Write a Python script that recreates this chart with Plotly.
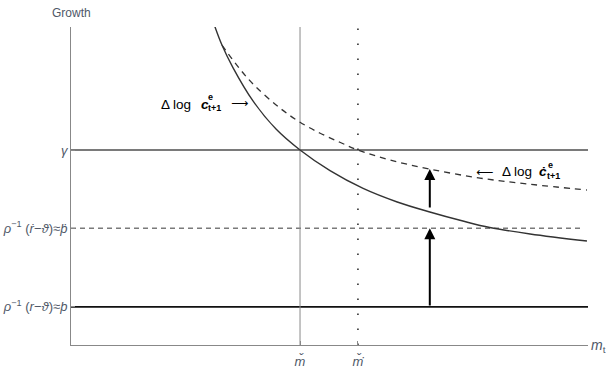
import plotly.graph_objects as go

# ---- data (axis units) ----
solid_x = [2.77, 2.92, 3.13, 3.52, 3.97, 4.43, 5.01, 5.65, 6.31, 6.94, 7.58, 8.10, 8.88, 9.98]
solid_y = [9.92, 9.29, 8.60, 7.56, 6.68, 6.04, 5.40, 4.85, 4.43, 4.12, 3.84, 3.64, 3.44, 3.22]
dash_x = [2.92, 3.27, 3.56, 4.04, 4.43, 4.82, 5.20, 5.55, 6.17, 6.94, 7.91, 8.88, 9.98]
dash_y = [9.29, 8.54, 8.02, 7.34, 6.90, 6.56, 6.28, 6.04, 5.73, 5.45, 5.17, 4.98, 4.80]

gamma = 6.04
rho_dot = 3.62
rho = 1.18
m_check = 4.43
m_check_dot = 5.55
arrow_x = 6.94
arrow_upper = [4.21, 5.45]   # from, to
arrow_lower = [rho, rho_dot]

ytick_vals = [rho, rho_dot, gamma]
ytick_text = ["<i>ρ</i><sup>−1</sup> (<i>r</i>−<i>ϑ</i>)≈<i>þ</i>",
              "<i>ρ</i><sup>−1</sup> (<i>ṙ</i>−<i>ϑ</i>)≈<i>þ\u0307</i>",
              "<i>γ</i>"]
xtick_vals = [m_check, m_check_dot]
xtick_text = ["<i>m\u030c</i>", "<i>m\u030c\u0307</i>"]

XMAX = 10
YMAX = 9.85
label_col = "#4f5867"
FAM = "Liberation Sans, Arial, sans-serif"

fig = go.Figure()

# horizontal lines
fig.add_trace(go.Scatter(x=[0, XMAX], y=[gamma, gamma], mode="lines",
                         line=dict(color="#7a7a7a", width=2), hoverinfo="skip"))
fig.add_trace(go.Scatter(x=[0, 9.9], y=[rho_dot, rho_dot], mode="lines",
                         line=dict(color="#7a7a7a", width=1.5, dash="5px,4px"), hoverinfo="skip"))
fig.add_trace(go.Scatter(x=[0, XMAX], y=[rho, rho], mode="lines",
                         line=dict(color="#111111", width=1.6), hoverinfo="skip"))
# vertical lines
fig.add_trace(go.Scatter(x=[m_check, m_check], y=[0, YMAX], mode="lines",
                         line=dict(color="#8a8a8a", width=1), hoverinfo="skip"))
fig.add_trace(go.Scatter(x=[m_check_dot, m_check_dot], y=[0, YMAX], mode="lines",
                         line=dict(color="#222222", width=1.5, dash="1.5px,13.5px"), hoverinfo="skip"))
# curves
fig.add_trace(go.Scatter(x=solid_x, y=solid_y, mode="lines", line_shape="spline",
                         line=dict(color="#333333", width=1.4), hoverinfo="skip"))
fig.add_trace(go.Scatter(x=dash_x, y=dash_y, mode="lines", line_shape="spline",
                         line=dict(color="#333333", width=1.3, dash="6px,5px"), hoverinfo="skip"))

ann = []
for a in (arrow_lower, arrow_upper):
    ann.append(dict(x=arrow_x, y=a[1], ax=arrow_x, ay=a[0], xref="x", yref="y",
                    axref="x", ayref="y", showarrow=True, arrowhead=2, arrowsize=1.1,
                    arrowwidth=2, arrowcolor="#000000", text=""))

f_main = dict(family=FAM, size=13.5, color="#000000")
f_small = dict(family=FAM, size=9, color="#000000")
f_arrow = dict(family="DejaVu Sans", size=12, color="#000000")

def t(x, y, text, font, xanchor="left"):
    return dict(x=x, y=y, text=text, showarrow=False, xanchor=xanchor,
                yanchor="middle", font=font)

# label 1: Δ log c^e_{t+1} ⟶
ann += [
    t(2.36, 7.46, "Δ log", f_main, "right"),
    t(2.476, 7.46, "<b><i>c</i></b>", f_main),
    t(2.611, 7.68, "<b>e</b>", f_small),
    t(2.611, 7.34, "<b>t+1</b>", f_small),
    t(3.26, 7.49, "⟶", f_arrow, "center"),
]
# label 2: ⟵ Δ log ċ^e_{t+1}
ann += [
    t(7.99, 5.36, "⟵", f_arrow, "center"),
    t(8.298, 5.36, "Δ log", f_main),
    t(9.01, 5.36, "<b><i>ċ</i></b>", f_main),
    t(9.19, 5.57, "<b>e</b>", f_small),
    t(9.17, 5.23, "<b>t+1</b>", f_small),
]
# axis titles
ann += [
    dict(x=0, y=1, xref="paper", yref="paper", text="Growth", showarrow=False,
         xanchor="center", yanchor="middle", yshift=14,
         font=dict(family=FAM, size=12, color=label_col)),
    dict(x=1, y=0, xref="paper", yref="paper", text="<i>m</i><sub>t</sub>", showarrow=False,
         xanchor="left", yanchor="middle", xshift=1, yshift=-1,
         font=dict(family=FAM, size=14, color=label_col)),
]

fig.update_layout(
    width=612, height=378,
    margin=dict(l=71, r=24, t=27, b=33, autoexpand=False),
    paper_bgcolor="white", plot_bgcolor="white",
    showlegend=False,
    annotations=ann,
    xaxis=dict(range=[0, XMAX], showgrid=False, zeroline=False, showline=True,
               automargin=False,
               linecolor="#888888", linewidth=1, ticks="inside", ticklen=4,
               tickcolor="#888888", tickvals=xtick_vals, ticktext=xtick_text,
               ticklabelstandoff=4,
               tickfont=dict(family=FAM, size=13, color=label_col)),
    yaxis=dict(range=[0, YMAX], showgrid=False, zeroline=False, showline=True,
               automargin=False,
               linecolor="#888888", linewidth=1, ticks="inside", ticklen=4,
               tickcolor="#888888", tickvals=ytick_vals, ticktext=ytick_text,
               tickfont=dict(family=FAM, size=13, color=label_col)),
)

fig.write_html("out.html")
